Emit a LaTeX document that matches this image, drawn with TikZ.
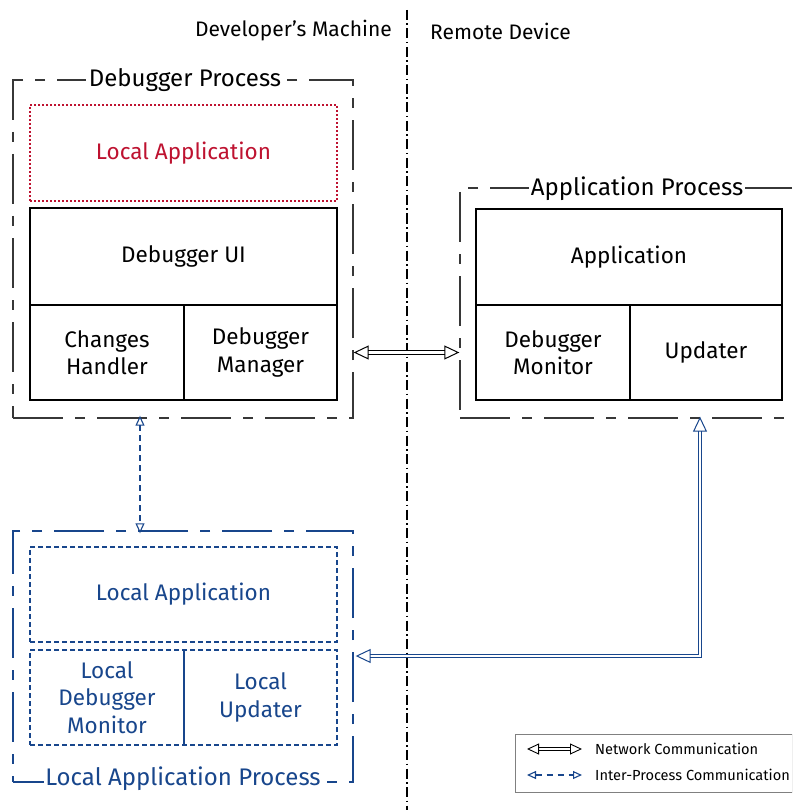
\documentclass[tikz,border=0pt]{standalone}
\usepackage{fontspec}
\setmainfont{Fira Sans}
\usetikzlibrary{arrows.meta}
\definecolor{cblue}{RGB}{24,70,140}
\definecolor{cred}{RGB}{190,18,48}
\definecolor{cgray}{RGB}{55,55,55}
\begin{document}
\begin{tikzpicture}[x=1pt,y=-1pt,
  cell/.style={draw, line width=1.1pt, inner sep=0pt, align=center,
    font=\fontsize{22.5}{27.5}\selectfont},
  proc/.style={draw=cgray, line width=1.4pt, inner sep=0pt,
    dash pattern=on 50pt off 12pt on 10pt off 12pt},
  ptitle/.style={fill=white, inner sep=3pt, font=\fontsize{24}{28}\selectfont},
  netline/.style={double=white, double distance=2.2pt, line width=1pt,
    {Triangle[open,length=15pt,width=14pt]}-{Triangle[open,length=15pt,width=14pt]}},
  ipcline/.style={cblue, line width=1.1pt, dash pattern=on 6pt off 4pt,
    {Triangle[open,length=10pt,width=9pt]}-{Triangle[open,length=10pt,width=9pt]}},
  legtext/.style={anchor=west, inner sep=0pt, font=\fontsize{14.6}{17}\selectfont}
]
\clip (0,0) rectangle (792,810);
\fill[white] (0,0) rectangle (792,810);

% machine separator
\coordinate (sepT) at (407,10);
\coordinate (sepB) at (407,810);
\draw[line width=1.1pt, dash pattern=on 10pt off 3.5pt on 1.5pt off 3.5pt] (sepT) -- (sepB);
\node[anchor=east, inner sep=0pt, font=\fontsize{21}{24}\selectfont] (dev) at (392,31) {Developer’s Machine};
\node[anchor=west, inner sep=0pt, font=\fontsize{21}{24}\selectfont] (rem) at (430,31) {Remote Device};

% Debugger Process
\node[proc, minimum width=340, minimum height=338] (dp) at (183,249) {};
\node[ptitle] (dpt) at (185,80) {Debugger Process};
\node[cell, draw=cred, text=cred, dash pattern=on 1.6pt off 2.4pt, line width=1.2pt, minimum width=307, minimum height=96] (la) at (183.5,153) {Local Application};
\node[cell, minimum width=307, minimum height=97] (ui) at (183.5,256.5) {Debugger UI};
\node[cell, minimum width=154, minimum height=95] (ch) at (107,352.5) {Changes\\Handler};
\node[cell, minimum width=153, minimum height=95] (dm) at (260.5,352.5) {Debugger\\Manager};

% Application Process
\node[proc, minimum width=345, minimum height=230] (ap) at (632.5,303) {};
\node[ptitle, inner sep=1.5pt] (apt) at (637,189) {Application Process};
\node[cell, minimum width=306, minimum height=96] (app) at (629,257) {Application};
\node[cell, minimum width=154, minimum height=95] (mon) at (553,352.5) {Debugger\\Monitor};
\node[cell, minimum width=152, minimum height=95] (upd) at (706,352.5) {Updater};

% Local Application Process
\node[proc, draw=cblue, minimum width=340, minimum height=251] (lp) at (183,656.5) {};
\node[ptitle, text=cblue, inner sep=1.5pt] (lpt) at (183,779) {Local Application Process};
\node[cell, draw=cblue, text=cblue, dash pattern=on 5pt off 3pt, minimum width=307, minimum height=95] (lla) at (183.5,594.5) {Local Application};
\node[cell, draw=cblue, text=cblue, dash pattern=on 5pt off 3pt, minimum width=307, minimum height=95] (lbot) at (183.5,697.5) {};
\node[inner sep=0pt, align=center, text=cblue, font=\fontsize{22.5}{27.5}\selectfont] (ldm) at (107,697.5) {Local\\Debugger\\Monitor};
\node[inner sep=0pt, align=center, text=cblue, font=\fontsize{22.5}{27.5}\selectfont] (lup) at (260.5,697.5) {Local\\Updater};
\draw[cblue, line width=1.1pt] (lbot.north -| 184,0) -- (lbot.south -| 184,0);

% connectors
\draw[netline] (dp.east |- dm) -- (ap.west |- dm);
\coordinate (ipx) at (140,0);
\draw[ipcline] ([yshift=3pt]dp.south -| ipx) -- ([yshift=-3pt]lp.north -| ipx);
\coordinate (bend) at (700,656);
\draw[netline, cblue, double=white] ([xshift=2pt]lp.east |- bend) -- (bend) -- ([yshift=2pt]ap.south -| bend);

% legend
\node[draw=gray, line width=1pt, minimum width=277, minimum height=58, inner sep=0pt] (leg) at (653.5,763) {};
\coordinate (n1) at (527,749);
\coordinate (n2) at (582,749);
\draw[netline, line width=0.9pt, double distance=2pt,
  {Triangle[open,length=12pt,width=11pt]}-{Triangle[open,length=12pt,width=11pt]}] (n1) -- (n2);
\node[legtext] (lt1) at (595,749) {Network Communication};
\coordinate (i1) at (527,775);
\coordinate (i2) at (582,775);
\draw[ipcline, dash pattern=on 6pt off 5pt,
  {Triangle[open,length=9pt,width=8pt]}-{Triangle[open,length=9pt,width=8pt]}] (i1) -- (i2);
\node[legtext] (lt2) at (595,775) {Inter-Process Communication};
\end{tikzpicture}
\end{document}
